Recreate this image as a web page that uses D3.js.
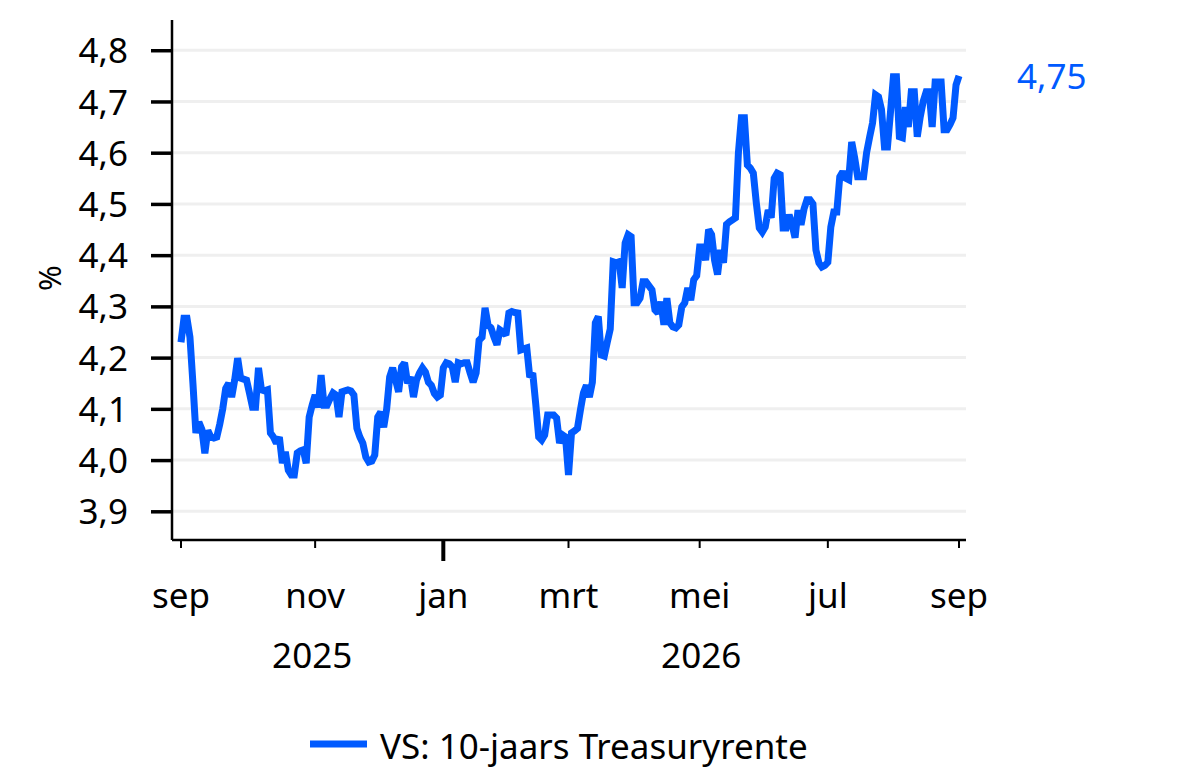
<!DOCTYPE html>
<html>
<head>
<meta charset="utf-8">
<script src="https://cdn.jsdelivr.net/npm/d3@7"></script>
<style>
  body { margin: 0; background: #fff; }
  svg text { font-family: "Noto Sans", "Open Sans", sans-serif; fill: #000; }
</style>
</head>
<body>
<div id="chart"></div>
<script>
// trading days: every weekday from startDate to endDate
const startDate = '2025-09-01';
const endDate = '2026-09-01';

// VS 10-jaars rente (%), one value per weekday
const yieldValues = [
  4.23, 4.277, 4.277, 4.24, 4.15, 4.053, 4.074, 4.06, 4.013, 4.058,
  4.045, 4.043, 4.045, 4.07, 4.10, 4.14, 4.15, 4.123, 4.156, 4.199,
  4.16, 4.158, 4.156, 4.13, 4.103, 4.103, 4.18, 4.137, 4.135, 4.137,
  4.053, 4.045, 4.033, 4.045, 3.994, 4.016, 3.98, 3.971, 3.971, 4.014,
  4.018, 4.02, 3.994, 4.084, 4.107, 4.127, 4.103, 4.166, 4.107, 4.107,
  4.12, 4.131, 4.127, 4.084, 4.133, 4.135, 4.137, 4.135, 4.127, 4.062,
  4.045, 4.033, 4.006, 3.996, 3.998, 4.01, 4.084, 4.094, 4.064, 4.10,
  4.162, 4.18, 4.156, 4.133, 4.182, 4.19, 4.15, 4.162, 4.123, 4.156,
  4.17, 4.18, 4.172, 4.152, 4.146, 4.13, 4.123, 4.127, 4.18, 4.19,
  4.188, 4.182, 4.152, 4.19, 4.188, 4.19, 4.19, 4.17, 4.152, 4.17,
  4.234, 4.24, 4.297, 4.264, 4.258, 4.24, 4.225, 4.254, 4.25, 4.244,
  4.287, 4.29, 4.288, 4.287, 4.215, 4.217, 4.219, 4.162, 4.17, 4.11,
  4.045, 4.039, 4.049, 4.088, 4.088, 4.088, 4.082, 4.033, 4.049, 4.045,
  3.971, 4.053, 4.057, 4.062, 4.098, 4.131, 4.146, 4.123, 4.152, 4.268,
  4.28, 4.205, 4.203, 4.23, 4.256, 4.387, 4.385, 4.387, 4.336, 4.424,
  4.44, 4.436, 4.307, 4.307, 4.316, 4.348, 4.348, 4.34, 4.332, 4.293,
  4.287, 4.309, 4.264, 4.316, 4.268, 4.26, 4.258, 4.264, 4.299, 4.307,
  4.336, 4.312, 4.352, 4.36, 4.416, 4.416, 4.39, 4.45, 4.44, 4.39,
  4.362, 4.41, 4.385, 4.46, 4.465, 4.469, 4.473, 4.6, 4.668, 4.668,
  4.576, 4.57, 4.56, 4.502, 4.453, 4.445, 4.455, 4.488, 4.473, 4.55,
  4.56, 4.557, 4.453, 4.453, 4.479, 4.46, 4.434, 4.488, 4.459, 4.49,
  4.508, 4.508, 4.50, 4.41, 4.385, 4.377, 4.38, 4.386, 4.455, 4.484,
  4.484, 4.553, 4.563, 4.55, 4.547, 4.621, 4.59, 4.553, 4.553, 4.553,
  4.6, 4.63, 4.658, 4.713, 4.709, 4.684, 4.611, 4.611, 4.678, 4.748,
  4.748, 4.631, 4.629, 4.689, 4.65, 4.719, 4.719, 4.631, 4.67, 4.70,
  4.719, 4.719, 4.65, 4.738, 4.738, 4.738, 4.645, 4.645, 4.655, 4.668,
  4.732, 4.75
];

const monthTicks = ['2025-09-01', '2025-11-01', '2026-01-01', '2026-03-01', '2026-05-01', '2026-07-01', '2026-09-01'];
const monthLabels = ['sep', 'nov', 'jan', 'mrt', 'mei', 'jul', 'sep'];
const yearLabels = ['2025', '2026'];
const yTicks = [3.9, 4.0, 4.1, 4.2, 4.3, 4.4, 4.5, 4.6, 4.7, 4.8];
const seriesName = 'VS: 10-jaars Treasuryrente';
const lineColor = '#005aff';

const width = 1199, height = 769;
const fontSize = 35;
const parse = d3.timeParse('%Y-%m-%d');
const nl = d3.formatLocale({ decimal: ',', thousands: '.', grouping: [3], currency: ['€', ''] });

const days = d3.timeDay.range(parse(startDate), d3.timeDay.offset(parse(endDate), 1))
    .filter(d => d.getDay() !== 0 && d.getDay() !== 6);
const data = days.map((d, i) => ({ date: d, i: i, value: yieldValues[i] }));

const svg = d3.select('#chart').append('svg')
    .attr('width', width)
    .attr('height', height);

// x runs over trading-day index
const x = d3.scaleLinear().domain([0, days.length - 1]).range([181, 959]);
const y = d3.scaleLinear().domain([3.844, 4.859]).range([540, 20]);
const plotLeft = 172, plotRight = 966;

// gridlines
svg.append('g').selectAll('line')
    .data(yTicks)
    .enter()
    .append('line')
    .attr('x1', plotLeft)
    .attr('x2', plotRight)
    .attr('y1', d => y(d))
    .attr('y2', d => y(d))
    .attr('stroke', '#efefef')
    .attr('stroke-width', 3);

// y axis
const yAxis = svg.append('g')
    .attr('transform', `translate(${plotLeft},0)`)
    .call(d3.axisLeft(y).tickValues(yTicks).tickSize(21).tickPadding(23).tickFormat(nl.format('.1f')));
yAxis.select('.domain').attr('d', `M0,${y.range()[1]}V${y.range()[0]}`).attr('stroke', '#000').attr('stroke-width', 2.5);
yAxis.selectAll('.tick line').attr('stroke', '#000').attr('stroke-width', 3.5);
yAxis.selectAll('.tick text')
    .attr('font-size', fontSize)
    .attr('dy', '0.36em')
    .style('font-family', '"Noto Sans", sans-serif');

svg.append('text')
    .attr('transform', 'translate(50,278) rotate(-90)')
    .attr('text-anchor', 'middle')
    .attr('dy', '0.35em')
    .attr('font-size', 31)
    .text('%');

// x axis
const tickIdx = monthTicks.map(s => d3.bisectLeft(days, parse(s)));
svg.append('line')
    .attr('x1', plotLeft)
    .attr('x2', plotRight)
    .attr('y1', 540)
    .attr('y2', 540)
    .attr('stroke', '#000')
    .attr('stroke-width', 2.5);

svg.append('g').selectAll('line')
    .data(tickIdx)
    .enter()
    .append('line')
    .attr('x1', d => x(d))
    .attr('x2', d => x(d))
    .attr('y1', 540)
    .attr('y2', (d, k) => monthLabels[k] === 'jan' ? 561 : 548)
    .attr('stroke', '#000')
    .attr('stroke-width', (d, k) => monthLabels[k] === 'jan' ? 4 : 2);

svg.append('g').selectAll('text')
    .data(tickIdx)
    .enter()
    .append('text')
    .attr('x', d => x(d))
    .attr('y', 608)
    .attr('text-anchor', 'middle')
    .attr('font-size', fontSize)
    .text((d, k) => monthLabels[k]);

// year labels centred on their part of the axis
const janIdx = tickIdx[monthLabels.indexOf('jan')];
const yearPos = [(tickIdx[0] + janIdx) / 2, (janIdx + tickIdx[tickIdx.length - 1]) / 2];
svg.append('g').selectAll('text')
    .data(yearLabels)
    .enter()
    .append('text')
    .attr('x', (d, k) => x(yearPos[k]))
    .attr('y', 668)
    .attr('text-anchor', 'middle')
    .attr('font-size', fontSize)
    .text(d => d);

// the line
const line = d3.line()
    .x(d => x(d.i))
    .y(d => y(d.value));

svg.append('path')
    .datum(data)
    .attr('d', line)
    .attr('fill', 'none')
    .attr('stroke', lineColor)
    .attr('stroke-width', 7)
    .attr('stroke-linejoin', 'miter')
    .attr('stroke-miterlimit', 2);

// last value label
const last = data[data.length - 1];
svg.append('text')
    .attr('x', 1017)
    .attr('y', y(last.value) + 13)
    .attr('font-size', fontSize)
    .style('fill', lineColor)
    .text(nl.format('.2f')(last.value));

// legend
svg.append('line')
    .attr('x1', 310)
    .attr('x2', 367)
    .attr('y1', 744)
    .attr('y2', 744)
    .attr('stroke', lineColor)
    .attr('stroke-width', 7);
svg.append('text')
    .attr('x', 380)
    .attr('y', 759)
    .attr('font-size', fontSize)
    .text(seriesName);
</script>
</body>
</html>
